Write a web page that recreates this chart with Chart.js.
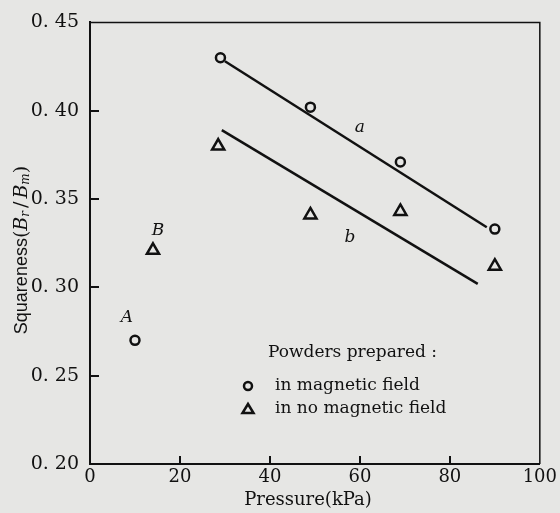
<!DOCTYPE html>
<html lang="en">
<head>
    <meta charset="UTF-8">
    <title>Squareness vs Pressure</title>
    <style>
        body {
            margin: 0;
            background-color: #e6e6e4; /* scanned paper look */
        }
        #wrap {
            width: 560px;
            height: 513px;
        }
    </style>
    <script src="https://cdn.jsdelivr.net/npm/chart.js"></script>
</head>
<body>
    <div id="wrap">
        <canvas id="squareChart" width="560" height="513"></canvas>
    </div>
    <script>
        // data
        const pressureMag = [10, 29, 49, 69, 90];
        const squarenessMag = [0.27, 0.43, 0.402, 0.371, 0.333];
        const pressureNoMag = [14, 28.5, 49, 69, 90];
        const squarenessNoMag = [0.321, 0.38, 0.341, 0.343, 0.312];

        // fitted straight lines a and b (end points)
        const lineAX = [30, 88.2];
        const lineAY = [0.428, 0.334];
        const lineBX = [29.3, 86.2];
        const lineBY = [0.389, 0.302];

        // letter labels in the plot (data coords)
        const noteText = ['A', 'B', 'a', 'b'];
        const noteX = [8.2, 15.1, 60, 57.8];
        const noteY = [0.283, 0.332, 0.3906, 0.328];

        const legendTitle = 'Powders prepared :';
        const ink = '#111111';
        const serif = '"DejaVu Serif", serif';

        const toPoints = (xs, ys) => xs.map((x, i) => ({ x: x, y: ys[i] }));

        // frame, inward ticks, titles, labels and legend
        const extras = {
            id: 'extras',
            afterDraw(chart) {
                const ctx = chart.ctx;
                const a = chart.chartArea;
                const xs = chart.scales.x;
                const ys = chart.scales.y;
                ctx.save();
                ctx.strokeStyle = ink;
                ctx.fillStyle = ink;

                // top + right of the box
                ctx.lineWidth = 1.5;
                ctx.beginPath();
                ctx.moveTo(a.left, a.top);
                ctx.lineTo(a.right, a.top);
                ctx.lineTo(a.right, a.bottom);
                ctx.stroke();

                // inward ticks
                ctx.lineWidth = 2;
                xs.ticks.forEach(t => {
                    if (t.value <= xs.min || t.value >= xs.max) return;
                    const px = Math.round(xs.getPixelForValue(t.value));
                    ctx.beginPath();
                    ctx.moveTo(px, a.bottom);
                    ctx.lineTo(px, a.bottom - 8);
                    ctx.stroke();
                });
                ys.ticks.forEach(t => {
                    if (t.value <= ys.min + 1e-9 || t.value >= ys.max - 1e-9) return;
                    const py = Math.round(ys.getPixelForValue(t.value));
                    ctx.beginPath();
                    ctx.moveTo(a.left, py);
                    ctx.lineTo(a.left + 9, py);
                    ctx.stroke();
                });

                // letters A, B, a, b
                ctx.font = 'italic 17px ' + serif;
                ctx.textAlign = 'center';
                ctx.textBaseline = 'middle';
                noteText.forEach((s, i) => {
                    ctx.fillText(s, xs.getPixelForValue(noteX[i]), ys.getPixelForValue(noteY[i]));
                });

                // x title
                ctx.font = '18px ' + serif;
                ctx.fillText('Pressure(kPa)', 308, 500);

                // y title with italic B and subscripts
                ctx.save();
                ctx.translate(22, 250);
                ctx.rotate(-Math.PI / 2);
                const parts = [
                    ['Squareness', '18px "Liberation Sans", sans-serif', 0],
                    ['(', '19px ' + serif, 0],
                    ['B', 'italic 19px ' + serif, 0],
                    ['r', 'italic 12px ' + serif, 4],
                    ['/', '19px ' + serif, 0],
                    ['B', 'italic 19px ' + serif, 0],
                    ['m', 'italic 12px ' + serif, 4],
                    [')', '19px ' + serif, 0]
                ];
                let total = 0;
                parts.forEach(p => { ctx.font = p[1]; total += ctx.measureText(p[0]).width + (p[0] === '/' ? 6 : 0); });
                let cx = -total / 2;
                ctx.textAlign = 'left';
                parts.forEach(p => {
                    ctx.font = p[1];
                    const extra = p[0] === '/' ? 3 : 0;
                    ctx.fillText(p[0], cx + extra, p[2]);
                    cx += ctx.measureText(p[0]).width + extra * 2;
                });
                ctx.restore();

                // legend
                ctx.textAlign = 'left';
                ctx.font = '17px ' + serif;
                ctx.fillText(legendTitle, 268, 353);
                const ds = chart.data.datasets;
                [0, 1].forEach((k, i) => {
                    const y = 386 + i * 23;
                    const d = ds[k];
                    ctx.lineWidth = 2.5;
                    ctx.beginPath();
                    if (d.pointStyle === 'triangle') {
                        ctx.moveTo(248, y - 5);
                        ctx.lineTo(253.5, y + 4);
                        ctx.lineTo(242.5, y + 4);
                        ctx.closePath();
                    } else {
                        ctx.arc(248, y, 4, 0, Math.PI * 2);
                    }
                    ctx.stroke();
                    ctx.fillText(d.label, 275, y);
                });
                ctx.restore();
            }
        };

        new Chart(document.getElementById('squareChart'), {
            type: 'scatter',
            data: {
                datasets: [
                    {
                        label: 'in magnetic field',
                        data: toPoints(pressureMag, squarenessMag),
                        pointStyle: 'circle',
                        pointRadius: 4.5,
                        borderWidth: 2.5,
                        borderColor: ink,
                        backgroundColor: 'rgba(0,0,0,0)'
                    },
                    {
                        label: 'in no magnetic field',
                        data: toPoints(pressureNoMag, squarenessNoMag),
                        pointStyle: 'triangle',
                        pointRadius: 7,
                        borderWidth: 2.5,
                        borderColor: ink,
                        backgroundColor: 'rgba(0,0,0,0)'
                    },
                    {
                        label: 'a',
                        data: toPoints(lineAX, lineAY),
                        showLine: true,
                        pointRadius: 0,
                        borderWidth: 2.5,
                        borderColor: ink
                    },
                    {
                        label: 'b',
                        data: toPoints(lineBX, lineBY),
                        showLine: true,
                        pointRadius: 0,
                        borderWidth: 2.5,
                        borderColor: ink
                    }
                ]
            },
            options: {
                responsive: false,
                animation: false,
                devicePixelRatio: 1,
                layout: { padding: { top: 14, right: 19, left: 0, bottom: 0 } },
                plugins: {
                    legend: { display: false },
                    tooltip: { enabled: false }
                },
                scales: {
                    x: {
                        type: 'linear',
                        min: 0,
                        max: 100,
                        afterFit: (s) => { s.height = 49; },
                        border: { display: true, color: ink, width: 2 },
                        grid: { display: true, drawOnChartArea: false, drawTicks: false },
                        ticks: {
                            stepSize: 20,
                            padding: 3,
                            color: ink,
                            font: { family: serif, size: 18 }
                        }
                    },
                    y: {
                        type: 'linear',
                        min: 0.2,
                        max: 0.45,
                        afterFit: (s) => { s.width = 90; },
                        border: { display: true, color: ink, width: 2 },
                        grid: { display: true, drawOnChartArea: false, drawTicks: false },
                        ticks: {
                            stepSize: 0.05,
                            padding: 11,
                            color: ink,
                            font: { family: serif, size: 19 },
                            callback: (v) => v.toFixed(2).replace('.', '. ')
                        }
                    }
                }
            },
            plugins: [extras]
        });
    </script>
</body>
</html>
